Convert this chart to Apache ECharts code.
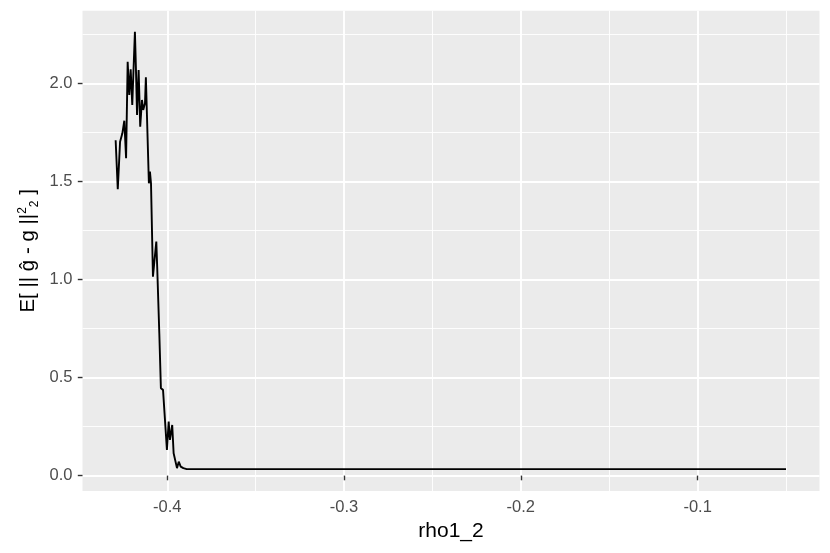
<!DOCTYPE html>
<html>
<head>
<meta charset="utf-8">
<script src="https://cdn.jsdelivr.net/npm/echarts@6/dist/echarts.min.js"></script>
<style>
html,body{margin:0;padding:0;background:#fff;}
#c{width:830px;height:553px;}
</style>
</head>
<body>
<div id="c"></div>
<script>
// ---- data ----
var rhoValues = [-0.4292, -0.4280, -0.4267, -0.4254, -0.4243, -0.4233, -0.4224, -0.4215, -0.4207, -0.4198,
  -0.4192, -0.4183, -0.4177, -0.4171, -0.4162, -0.4153, -0.4143, -0.4136, -0.4126, -0.4121,
  -0.4104, -0.4098, -0.4092, -0.4081, -0.4073, -0.4062, -0.4057, -0.4045, -0.4036, -0.4024,
  -0.4002, -0.3992, -0.3985, -0.3972, -0.3964, -0.3955, -0.3945, -0.3935, -0.3924, -0.3909,
  -0.3890, -0.35, -0.30, -0.25, -0.20, -0.15, -0.10, -0.05];
var errValues = [1.710, 1.460, 1.702, 1.745, 1.809, 1.618, 2.110, 1.940, 2.071, 1.889,
  2.042, 2.263, 2.068, 1.838, 2.068, 1.779, 1.915, 1.864, 1.898, 2.031,
  1.490, 1.550, 1.490, 1.014, 1.091, 1.193, 1.065, 0.726, 0.445, 0.437,
  0.131, 0.275, 0.182, 0.258, 0.114, 0.105, 0.038, 0.071, 0.046, 0.038,
  0.033, 0.033, 0.033, 0.033, 0.033, 0.033, 0.033, 0.033];
var xTickValues = [-0.4, -0.3, -0.2, -0.1];
var yTickValues = [0.0, 0.5, 1.0, 1.5, 2.0];
var xTitle = 'rho1_2';

// ---- layout ----
var panel = {left: 82.5, right: 819.5, top: 10.7, bottom: 491};
var W = 830, H = 553;
var xLim = [-0.44795, -0.03105];
var yLim = [-0.0785, 2.370];
var xStep = 0.1, yStep = 0.5;
var pxPerX = (panel.right - panel.left) / (xLim[1] - xLim[0]);
var pxPerY = (panel.bottom - panel.top) / (yLim[1] - yLim[0]);
var xTickMin = Math.floor(xLim[0] / xStep) * xStep;   // -0.5
var xTickMax = Math.ceil(xLim[1] / xStep) * xStep;    // 0.0
var yTickMin = Math.floor(yLim[0] / yStep) * yStep;   // -0.5
var yTickMax = Math.ceil(yLim[1] / yStep) * yStep;    // 2.5
var gridXLeft = panel.left - (xLim[0] - xTickMin) * pxPerX;
var gridXRight = (W - panel.right) - (xTickMax - xLim[1]) * pxPerX;
var gridYBottom = (H - panel.bottom) - (yLim[0] - yTickMin) * pxPerY;
var gridYTop = panel.top - (yTickMax - yLim[1]) * pxPerY;

var seriesData = rhoValues.map(function (x, i) { return [x, errValues[i]]; });
var FONT = '"Liberation Sans", Arial, Helvetica, sans-serif';
var labelColor = '#4D4D4D';
var tickStyle = {show: true, length: 4.7, lineStyle: {color: '#333333', width: 1.4}};

function inList(v, list) {
  for (var i = 0; i < list.length; i++) if (Math.abs(list[i] - v) < 1e-9) return true;
  return false;
}

var chart = echarts.init(document.getElementById('c'), null, {renderer: 'canvas'});
chart.setOption({
  backgroundColor: '#ffffff',
  animation: false,
  grid: [
    {left: panel.left, right: W - panel.right, top: panel.top, bottom: H - panel.bottom,
     show: true, backgroundColor: '#EBEBEB', borderWidth: 0, containLabel: false, outerBoundsMode: 'none'},
    {left: gridXLeft, right: gridXRight, top: panel.top, bottom: H - panel.bottom,
     show: false, containLabel: false, outerBoundsMode: 'none'},
    {left: panel.left, right: W - panel.right, top: gridYTop, bottom: gridYBottom,
     show: false, containLabel: false, outerBoundsMode: 'none'}
  ],
  xAxis: [
    {gridIndex: 0, type: 'value', min: xLim[0], max: xLim[1],
     axisLine: {show: false}, axisTick: {show: false}, axisLabel: {show: false}, splitLine: {show: false},
     name: xTitle, nameLocation: 'middle', nameGap: 30,
     nameTextStyle: {fontFamily: FONT, fontSize: 21, color: '#000000'}},
    {gridIndex: 1, type: 'value', min: xTickMin, max: xTickMax, interval: xStep,
     axisLine: {show: false}, axisTick: tickStyle,
     axisLabel: {show: true, margin: 8, fontFamily: FONT, fontSize: 16.5, color: labelColor,
       formatter: function (v) { return inList(v, xTickValues) ? v.toFixed(1) : ''; }},
     splitLine: {show: true, lineStyle: {color: '#ffffff', width: 1.9}},
     minorTick: {show: false, splitNumber: 2},
     minorSplitLine: {show: true, lineStyle: {color: '#ffffff', width: 0.9}}},
    {gridIndex: 2, type: 'value', min: xLim[0], max: xLim[1], show: false}
  ],
  yAxis: [
    {gridIndex: 0, type: 'value', min: yLim[0], max: yLim[1],
     axisLine: {show: false}, axisTick: {show: false}, axisLabel: {show: false}, splitLine: {show: false},
     name: 'E[ || ĝ - g ||{sup|2}{sub|2} ]', nameLocation: 'middle', nameGap: 42, nameRotate: 90,
     nameTextStyle: {fontFamily: FONT, fontSize: 20.5, color: '#000000',
       rich: {
         sup: {fontFamily: FONT, fontSize: 12, color: '#000000', verticalAlign: 'top', lineHeight: 24},
         sub: {fontFamily: FONT, fontSize: 12, color: '#000000', verticalAlign: 'bottom', lineHeight: 24}
       }}},
    {gridIndex: 1, type: 'value', min: yLim[0], max: yLim[1], show: false},
    {gridIndex: 2, type: 'value', min: yTickMin, max: yTickMax, interval: yStep,
     axisLine: {show: false}, axisTick: tickStyle,
     axisLabel: {show: true, margin: 10, fontFamily: FONT, fontSize: 16.5, color: labelColor,
       formatter: function (v) { return inList(v, yTickValues) ? v.toFixed(1) : ''; }},
     splitLine: {show: true, lineStyle: {color: '#ffffff', width: 1.9}},
     minorTick: {show: false, splitNumber: 2},
     minorSplitLine: {show: true, lineStyle: {color: '#ffffff', width: 0.9}}}
  ],
  series: [{
    type: 'line',
    xAxisIndex: 0, yAxisIndex: 0,
    data: seriesData,
    showSymbol: false,
    symbol: 'none',
    lineStyle: {color: '#000000', width: 1.9},
    clip: false,
    z: 5
  }]
});
</script>
</body>
</html>
